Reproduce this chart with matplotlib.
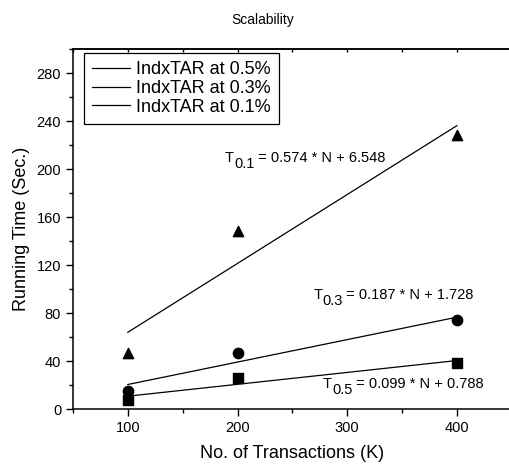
import numpy as np
import matplotlib
matplotlib.use('Agg')
import matplotlib.pyplot as plt
from matplotlib.ticker import MultipleLocator

plt.rcParams['font.family'] = ['Liberation Sans', 'DejaVu Sans']

# data
transactions = [100, 200, 400]
time_05 = [7.3, 25.5, 38.5]
time_03 = [15, 47, 74]
time_01 = [47, 148, 228]

# fitted lines  T = slope * N + intercept
supports = ['0.5', '0.3', '0.1']
slopes = [0.099, 0.187, 0.574]
intercepts = [0.788, 1.728, 6.548]
legend_labels = ['IndxTAR at 0.5%', 'IndxTAR at 0.3%', 'IndxTAR at 0.1%']

fig = plt.figure(figsize=(5.09, 4.66), dpi=100)
ax = fig.add_axes([0.1434, 0.1223, 0.862, 0.7725])

# fit lines
fit_x = np.array([100, 400])
for s, b, lab in zip(slopes, intercepts, legend_labels):
    ax.plot(fit_x, s * fit_x + b, color='black', lw=0.9, label=lab)

ax.scatter(transactions, time_05, marker='s', s=45, color='black', zorder=3)
ax.scatter(transactions, time_03, marker='o', s=55, color='black', zorder=3)
ax.scatter(transactions, time_01, marker='^', s=55, color='black', zorder=3)

# equation labels: "T", subscript, rest of formula (offsets in points)
eq_pos = [(278, 17.6), (269, 92), (188.6, 205.7)]
fs = 10.5
for sup, s, b, (px, py) in zip(supports, slopes, intercepts, eq_pos):
    ax.annotate('T', xy=(px, py), xytext=(0, 0), textcoords='offset points',
                fontsize=fs, va='baseline', ha='left')
    ax.annotate(sup, xy=(px, py), xytext=(6.4, -4.5), textcoords='offset points',
                fontsize=fs, va='baseline', ha='left')
    ax.annotate(' = %.3f * N + %.3f' % (s, b), xy=(px, py), xytext=(21, 0),
                textcoords='offset points', fontsize=fs, va='baseline', ha='left')

ax.set_xlim(50, 450)
ax.set_ylim(0, 300)
ax.xaxis.set_major_locator(MultipleLocator(100))
ax.xaxis.set_minor_locator(MultipleLocator(50))
ax.yaxis.set_major_locator(MultipleLocator(40))
ax.yaxis.set_minor_locator(MultipleLocator(20))
ax.tick_params(which='major', direction='out', length=5, width=1, labelsize=10.5)
ax.tick_params(which='minor', direction='out', length=3, width=1)
for sp in ax.spines.values():
    sp.set_linewidth(1.1)

# small inward ticks along the top edge
top = ax.secondary_xaxis('top')
top.xaxis.set_major_locator(MultipleLocator(100))
top.xaxis.set_minor_locator(MultipleLocator(50))
top.tick_params(which='both', direction='in', length=2, width=1, labeltop=False)
top.spines['top'].set_linewidth(1.1)

ax.set_xlabel('No. of Transactions (K)', fontsize=13, labelpad=7)
ax.set_ylabel('Running Time (Sec.)', fontsize=13, labelpad=5)
fig.text(263 / 509, 1 - 20 / 466, 'Scalability', ha='center', va='center', fontsize=10)

leg = ax.legend(loc='upper left', bbox_to_anchor=(0.025, 0.989), fontsize=13,
                fancybox=False, edgecolor='black', framealpha=1,
                handlelength=2.1, borderpad=0.45, labelspacing=0.1,
                handletextpad=0.35, borderaxespad=0)
leg.get_frame().set_linewidth(0.9)

fig.savefig('out.png', dpi=100)
